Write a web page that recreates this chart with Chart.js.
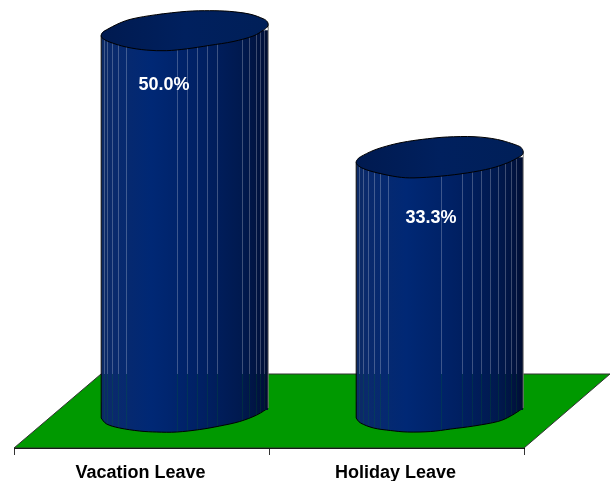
<!DOCTYPE html>
<html><head><meta charset="utf-8">
<style>html,body{margin:0;padding:0;background:#fff}#w{width:610px;height:481px;position:relative}canvas{display:block}</style>
<script src="https://cdn.jsdelivr.net/npm/chart.js@4"></script>
</head><body><div id="w"><canvas id="c" width="610" height="481"></canvas></div>
<script>
const categories = ["Vacation Leave", "Holiday Leave"];
const leaveValues = [50.0, 33.3];
const valueLabels = ["50.0%", "33.3%"];

const DEPTH_X = 43.2, BACK = 87, BACK_Y = 74, BAR_PCT = .655;
const LABEL_FONT = 'bold 18px "Liberation Sans", Arial, sans-serif';
const labelShift = [[22.5,55],[34.5,61]];
const sliceSets = [
  [3,6,11,17,25,76,86,96,106,116,141,148,155,159,163],
  [3,7,12,18,24,32,85,106,116,125,134,142,149,155,160]
];
/* hand-drawn outline of the caps, relative to the cap centre */
const capShapes = [
  [[-83.5,5],[-82,2],[-78.3,-.5],[-65,-7.3],[-51.7,-11.7],[-28.3,-15.7],[1.7,-19],[25,-19.7],[45,-19],[65,-16.3],[78.3,-11.7],[82.3,-9],[83.5,-6],[82.3,-3],[78.3,0],[68.3,5.7],[48.3,11.2],[25,15],[1.7,18.5],[-18.3,20.3],[-38.3,19.7],[-58.3,16.7],[-75,11.7],[-82,8]],
  [[-83.5,4.7],[-82,2],[-79,-.5],[-65.7,-7],[-49,-12.2],[-32.3,-15.7],[-12.3,-18.4],[7.7,-20.2],[34.3,-20.5],[57.7,-17.7],[77.7,-11.7],[82.3,-8.5],[83.5,-5],[82.3,-2],[77.7,.7],[67.7,5.7],[51,11.2],[27.7,15.7],[1,19],[-25.7,20.7],[-42.3,19.7],[-62.3,15.7],[-75.7,11.7],[-82,8]]
];
const baseCurves = [
  [[-83.5,8],[-78,14],[-65,18],[-45,21],[-28,22],[-8,22],[15,19.5],[35,16],[55,11.5],[72,5],[83.5,-2]],
  [[-83.5,8],[-79,13],[-66,18],[-49,20.5],[-32,22],[-9,21.5],[11,19],[34,16],[58,11.5],[71,6],[83.5,-2]]
];

function grad(ctx, l, r, stops){
  const g = ctx.createLinearGradient(l,0,r,0);
  stops.forEach(s=>g.addColorStop(s[0],s[1]));
  return g;
}
const bodyStops = [[0,'#0c2a64'],[.06,'#0a2a6c'],[.3,'#002875'],[.6,'#002063'],[.85,'#00194e'],[.97,'#00113c'],[1,'#000c2c']];
const topStops = [[0,'#001a50'],[.5,'#00205e'],[1,'#001f58']];

function spline(ctx, pts, closed, ox, oy, start){
  const p=pts.map(q=>[q[0]+ox,q[1]+oy]), n=p.length;
  const at=i=>closed?p[(i+n)%n]:p[Math.max(0,Math.min(n-1,i))];
  if(start) ctx.moveTo(p[0][0],p[0][1]); else ctx.lineTo(p[0][0],p[0][1]);
  const last=closed?n:n-1;
  for(let i=0;i<last;i++){
    const a=at(i-1),b=at(i),c=at(i+1),d=at(i+2);
    ctx.bezierCurveTo(b[0]+(c[0]-a[0])/6,b[1]+(c[1]-a[1])/6,c[0]-(d[0]-b[0])/6,c[1]-(d[1]-b[1])/6,c[0],c[1]);
  }
  if(closed) ctx.closePath();
}
function curveY(curve,dx){
  for(let i=1;i<curve.length;i++){
    if(dx<=curve[i][0]){const a=curve[i-1],b=curve[i];return a[1]+(b[1]-a[1])*(dx-a[0])/(b[0]-a[0]);}
  }
  return curve[curve.length-1][1];
}
/* everything of a column stays inside its cap outline and below it */
function clipColumns(chart){
  const ctx=chart.ctx, b=chart.height;
  ctx.beginPath();
  chart.getDatasetMeta(0).data.forEach((el,i)=>{
    const cx=el.x+DEPTH_X, rx=el.width/2;
    spline(ctx,capShapes[i],true,cx,el.y,true);
    ctx.moveTo(cx-rx,el.y+5);ctx.lineTo(cx+rx,el.y-6);ctx.lineTo(cx+rx,b);ctx.lineTo(cx-rx,b);ctx.closePath();
  });
  ctx.clip();
}

const cylinder = {
  id:'cylinder',
  beforeDatasetsDraw(chart){
    const {ctx,chartArea:a} = chart;
    ctx.save();
    ctx.beginPath();
    ctx.moveTo(a.left,a.bottom);
    ctx.lineTo(a.left+BACK,a.bottom-BACK_Y);
    ctx.lineTo(a.right+BACK-1,a.bottom-BACK_Y);
    ctx.lineTo(a.right,a.bottom);
    ctx.closePath();
    ctx.fillStyle='#009900';
    ctx.fill();
    ctx.strokeStyle='#333';ctx.lineWidth=1;ctx.stroke();
    chart.getDatasetMeta(0).data.forEach((el,i)=>{
      const cx=el.x+DEPTH_X, rx=el.width/2;
      ctx.beginPath();
      ctx.moveTo(cx-rx,el.base-8);
      spline(ctx,baseCurves[i],false,cx,el.base,false);
      ctx.lineTo(cx+rx,el.base-8);ctx.closePath();
      ctx.fillStyle=grad(ctx,cx-rx,cx+rx,bodyStops);ctx.fill();
      ctx.beginPath();
      spline(ctx,baseCurves[i],false,cx,el.base,true);
      ctx.strokeStyle='#000';ctx.lineWidth=1;ctx.stroke();
    });
    ctx.restore();
  },
  beforeDatasetDraw(chart){
    chart.ctx.save();
    clipColumns(chart);
    chart.ctx.translate(DEPTH_X,0);
  },
  afterDatasetDraw(chart){
    const ctx=chart.ctx;
    ctx.restore();
    const floorY=chart.chartArea.bottom-BACK_Y;
    ctx.save();
    clipColumns(chart);
    chart.getDatasetMeta(0).data.forEach((el,i)=>{
      const cx=el.x+DEPTH_X, rx=el.width/2, l=cx-rx;
      sliceSets[i].forEach(off=>{
        const x=Math.round(l+off)+.5;
        const yb=el.base+curveY(baseCurves[i],x-cx);
        ctx.lineWidth=1;
        ctx.strokeStyle='rgba(255,255,255,.24)';
        ctx.beginPath();ctx.moveTo(x,el.y-22);ctx.lineTo(x,floorY);ctx.stroke();
        ctx.strokeStyle='rgba(0,153,0,.14)';
        ctx.beginPath();ctx.moveTo(x,floorY);ctx.lineTo(x,yb);ctx.stroke();
      });
    });
    ctx.restore();
    chart.getDatasetMeta(0).data.forEach((el,i)=>{
      const cx=el.x+DEPTH_X, rx=el.width/2, l=cx-rx;
      ctx.lineWidth=1;
      ctx.strokeStyle='#000';
      ctx.beginPath();ctx.moveTo(l,el.y+5);ctx.lineTo(l,el.base+8);ctx.stroke();
      ctx.strokeStyle='#777';
      ctx.beginPath();ctx.moveTo(l+el.width,el.y-6);ctx.lineTo(l+el.width,el.base-2);ctx.stroke();
      ctx.beginPath();spline(ctx,capShapes[i],true,cx,el.y,true);
      ctx.fillStyle=grad(ctx,l,l+el.width,topStops);ctx.fill();
      ctx.strokeStyle='#000';ctx.lineWidth=1;ctx.stroke();
      ctx.fillStyle='#fff';
      ctx.font=LABEL_FONT;
      ctx.textAlign='center';ctx.textBaseline='middle';
      ctx.fillText(valueLabels[i],el.x+labelShift[i][0],el.y+labelShift[i][1]);
    });
  }
};

new Chart(document.getElementById('c'),{
  type:'bar',
  data:{labels:categories,datasets:[{
    data:leaveValues,
    clip:false,
    categoryPercentage:1,barPercentage:BAR_PCT,
    backgroundColor(c){
      const sx=c.chart.scales.x;
      if(!sx||!sx.width||c.dataIndex===undefined) return '#002063';
      const mid=sx.getPixelForValue(c.dataIndex), half=sx.width/categories.length*BAR_PCT/2;
      return grad(c.chart.ctx,mid-half,mid+half,bodyStops);
    },
    borderWidth:0
  }]},
  options:{
    responsive:false,animation:false,
    layout:{padding:{left:14,right:86,top:0,bottom:0}},
    plugins:{legend:{display:false},tooltip:{enabled:false},title:{display:false}},
    scales:{
      y:{display:false,min:-5,max:54},
      x:{
        afterFit(s){s.height=33;},
        grid:{display:true,offset:true,drawOnChartArea:false,drawTicks:true,tickLength:7,color:'#000',tickColor:'#333'},
        border:{display:true,color:'#000',width:1},
        ticks:{color:'#000',font:{family:'"Liberation Sans", Arial, sans-serif',size:18,weight:'bold'},padding:7,labelOffset:-1,maxRotation:0}
      }
    }
  },
  plugins:[cylinder]
});
</script></body></html>
